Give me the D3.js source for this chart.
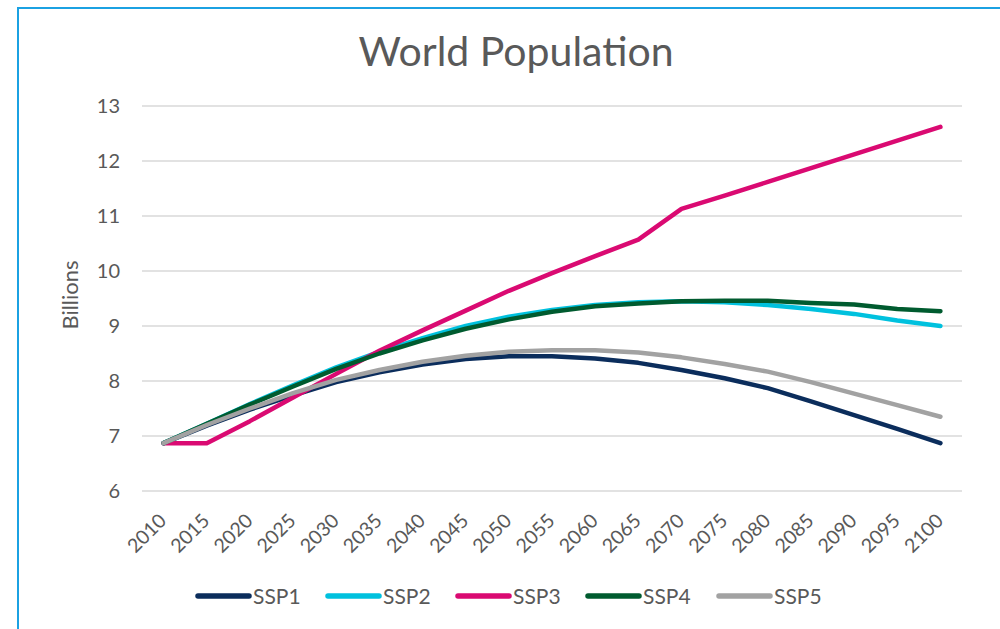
<!DOCTYPE html>
<html>
<head>
<meta charset="utf-8">
<script src="https://cdn.jsdelivr.net/npm/d3@7"></script>
<style>
  html, body { margin: 0; padding: 0; background: #fff; }
  svg { display: block; font-family: Lato, "Open Sans", sans-serif; }
</style>
</head>
<body>
<svg id="chart" width="1000" height="629"></svg>
<script>
// Years on the category axis
const years = [2010, 2015, 2020, 2025, 2030, 2035, 2040, 2045, 2050, 2055,
               2060, 2065, 2070, 2075, 2080, 2085, 2090, 2095, 2100];

// World population by scenario, billions
const ssp1 = [6.87, 7.19, 7.48, 7.74, 7.98, 8.16, 8.30, 8.40, 8.45, 8.45,
              8.41, 8.33, 8.20, 8.05, 7.87, 7.63, 7.38, 7.13, 6.87];
const ssp2 = [6.87, 7.22, 7.58, 7.92, 8.25, 8.53, 8.78, 9.00, 9.17, 9.29,
              9.38, 9.43, 9.45, 9.43, 9.38, 9.31, 9.22, 9.10, 9.00];
const ssp3 = [6.87, 6.87, 7.27, 7.70, 8.13, 8.55, 8.92, 9.28, 9.64, 9.96,
              10.27, 10.57, 11.13, 11.37, 11.62, 11.87, 12.12, 12.37, 12.62];
const ssp4 = [6.87, 7.22, 7.57, 7.90, 8.22, 8.50, 8.74, 8.95, 9.12, 9.26,
              9.36, 9.41, 9.45, 9.46, 9.46, 9.42, 9.39, 9.31, 9.27];
const ssp5 = [6.87, 7.20, 7.50, 7.78, 8.02, 8.20, 8.35, 8.46, 8.53, 8.56,
              8.56, 8.52, 8.43, 8.31, 8.17, 7.98, 7.77, 7.56, 7.35];

const seriesNames = ["SSP1", "SSP2", "SSP3", "SSP4", "SSP5"];
const seriesValues = [ssp1, ssp2, ssp3, ssp4, ssp5];
const seriesColors = ["#0b2d5c", "#00c1de", "#da0a72", "#005b2f", "#a2a2a2"];

const yTicks = [6, 7, 8, 9, 10, 11, 12, 13];

const svg = d3.select("#chart");
const textColor = "#595959";

// Frame
svg.append("rect")
  .attr("x", 18).attr("y", 8)
  .attr("width", 1000).attr("height", 700)
  .attr("fill", "none")
  .attr("stroke", "#1ba1e2")
  .attr("stroke-width", 2);

// Title
svg.append("text")
  .attr("x", 516).attr("y", 66)
  .attr("text-anchor", "middle")
  .attr("fill", textColor)
  .attr("font-size", 41)
  .text("World Population");

const plot = { left: 142, right: 962, top: 106, bottom: 491 };

const x = d3.scaleBand()
  .domain(years)
  .range([plot.left, plot.right]);

const y = d3.scaleLinear()
  .domain([6, 13])
  .range([plot.bottom, plot.top]);

// Horizontal gridlines
svg.append("g")
  .selectAll("line")
  .data(yTicks)
  .join("line")
  .attr("x1", plot.left).attr("x2", plot.right)
  .attr("y1", d => y(d)).attr("y2", d => y(d))
  .attr("stroke", "#d9d9d9")
  .attr("stroke-width", 1.5);

// Y axis labels
const yAxis = svg.append("g")
  .attr("transform", "translate(120,0)")
  .call(d3.axisLeft(y).tickValues(yTicks).tickFormat(d3.format("d"))
    .tickSize(0).tickPadding(0));
yAxis.select(".domain").remove();
yAxis.selectAll("text")
  .attr("fill", textColor)
  .attr("font-size", 20)
  .attr("font-family", "Lato, 'Open Sans', sans-serif");

// X axis labels, rotated
const xAxis = svg.append("g")
  .attr("transform", `translate(0,${plot.bottom})`)
  .call(d3.axisBottom(x).tickSize(0).tickPadding(0));
xAxis.select(".domain").remove();
xAxis.selectAll("text")
  .attr("fill", textColor)
  .attr("font-size", 19.5)
  .attr("font-family", "Lato, 'Open Sans', sans-serif")
  .attr("text-anchor", "end")
  .attr("dy", null)
  .attr("y", 0)
  .attr("transform", "translate(4,31) rotate(-45)");

// Y axis title
svg.append("text")
  .attr("transform", "translate(78,295) rotate(-90)")
  .attr("text-anchor", "middle")
  .attr("fill", textColor)
  .attr("font-size", 22)
  .text("Billions");

// Series lines
const line = d3.line()
  .x((d, i) => x(years[i]) + x.bandwidth() / 2)
  .y(d => y(d));

svg.append("g")
  .selectAll("path")
  .data(seriesValues)
  .join("path")
  .attr("d", d => line(d))
  .attr("fill", "none")
  .attr("stroke", (d, i) => seriesColors[i])
  .attr("stroke-width", 4.5)
  .attr("stroke-linecap", "round")
  .attr("stroke-linejoin", "round");

// Legend
const legendX = [198, 328, 458, 588, 719];
const legend = svg.append("g")
  .selectAll("g")
  .data(seriesNames)
  .join("g")
  .attr("transform", (d, i) => `translate(${legendX[i]},596)`);
legend.append("line")
  .attr("x1", 0).attr("x2", 51)
  .attr("stroke", (d, i) => seriesColors[i])
  .attr("stroke-width", 5.5)
  .attr("stroke-linecap", "round");
legend.append("text")
  .attr("x", 55).attr("y", 7.5)
  .attr("fill", textColor)
  .attr("font-size", 21)
  .text(d => d);
</script>
</body>
</html>
